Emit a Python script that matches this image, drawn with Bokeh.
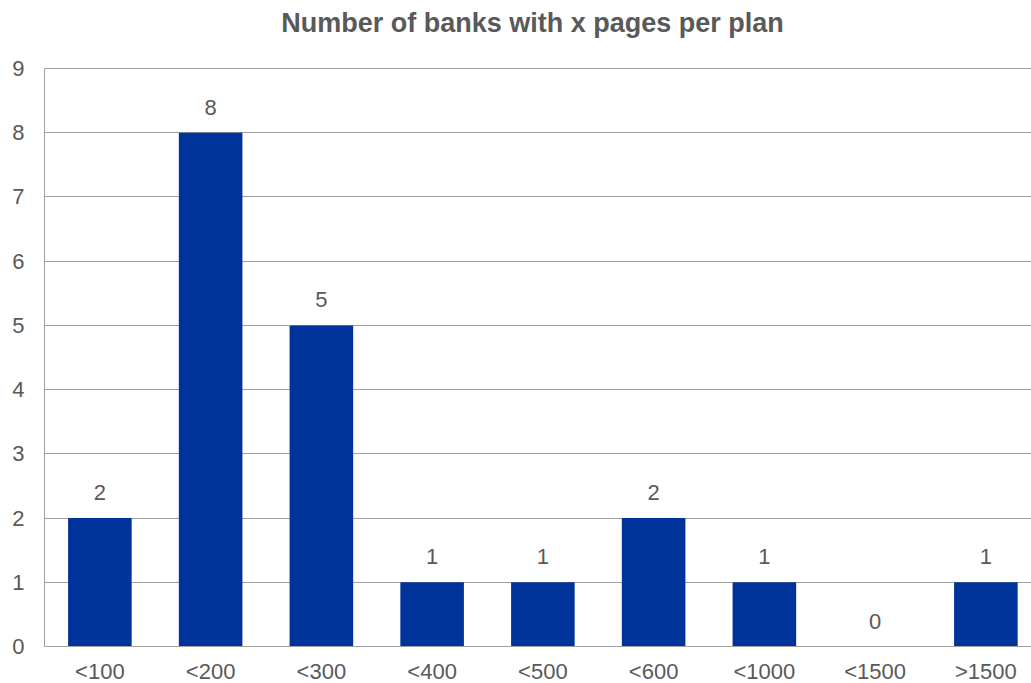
from bokeh.plotting import figure
from bokeh.models import Range1d, FixedTicker, ColumnDataSource, Label
from bokeh.embed import file_html
from bokeh.resources import INLINE

categories = ["<100", "<200", "<300", "<400", "<500", "<600", "<1000", "<1500", ">1500"]
counts = [2, 8, 5, 1, 1, 2, 1, 0, 1]
y_ticks = [0, 1, 2, 3, 4, 5, 6, 7, 8, 9]
title_text = "Number of banks with x pages per plan"

FONT = "Liberation Sans"
TXT = "#595959"
GRID = "#A0A0A0"
BAR = "#003399"

Y_MAX = 9
FRAME_H = 646
PX_PER_UNIT = 578 / Y_MAX

xs = [i + 0.5 for i in range(len(categories))]
src = ColumnDataSource(dict(x=xs, top=counts, lbl=[str(c) for c in counts]))

p = figure(frame_width=987, frame_height=FRAME_H, output_backend="svg", toolbar_location=None,
           x_range=Range1d(0, 8.912), y_range=Range1d(0, FRAME_H / PX_PER_UNIT),
           min_border_left=44, min_border_right=0, min_border_top=0, min_border_bottom=0)

title = Label(x=488, y=FRAME_H - 22, x_units="screen", y_units="screen", text=title_text,
              text_align="center", text_baseline="middle", text_font=FONT,
              text_font_size="27px", text_font_style="bold", text_color=TXT)
p.add_layout(title)

p.vbar(x="x", top="top", width=0.574, bottom=0, source=src, fill_color=BAR, line_color=None)
p.text(x="x", y="top", text="lbl", source=src, text_align="center", text_baseline="bottom",
       y_offset=-18, text_font_size="22px", text_color=TXT, text_font={"value": FONT})

p.xaxis.ticker = FixedTicker(ticks=xs)
p.xaxis.major_label_overrides = {x: c for x, c in zip(xs, categories)}
p.yaxis.ticker = FixedTicker(ticks=y_ticks)
p.yaxis.bounds = (0, Y_MAX)

for ax in (p.xaxis, p.yaxis):
    ax.major_tick_line_color = None
    ax.minor_tick_line_color = None
    ax.major_tick_out = 0
    ax.major_tick_in = 0
    ax.axis_line_color = GRID
    ax.major_label_text_font = FONT
    ax.major_label_text_font_size = "22px"
    ax.major_label_text_color = TXT
p.xaxis.major_label_standoff = 12
p.yaxis.major_label_standoff = 20

p.xgrid.grid_line_color = None
p.ygrid.grid_line_color = GRID
p.ygrid.ticker = FixedTicker(ticks=y_ticks)
p.outline_line_color = None
p.background_fill_color = "white"
p.border_fill_color = "white"

open("out.html", "w").write(file_html(p, INLINE))
